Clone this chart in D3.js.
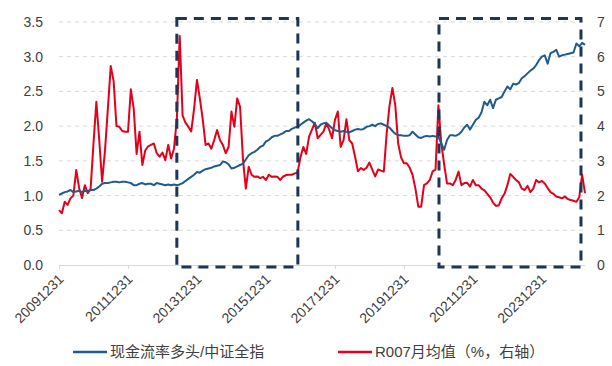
<!DOCTYPE html>
<html><head><meta charset="utf-8">
<script src="https://cdn.jsdelivr.net/npm/d3@7"></script>
<style>
body{margin:0;background:#fff;}
svg{display:block;font-family:"Liberation Sans",Arial,sans-serif;}
</style></head>
<body><svg id="c" width="612" height="366"></svg>
<script>
// ---- data (monthly, 2009-12 .. 2025-03) ----
const xTickLabels = ["20091231","20111231","20131231","20151231","20171231","20191231","20211231","20231231"];
const leftTicks = [0,0.5,1,1.5,2,2.5,3,3.5];
const rightTicks = [0,1,2,3,4,5,6,7];
const seriesNames = ["现金流率多头/中证全指","R007月均值（%，右轴）"];
const cashflowRatio = [
1.01,1.03,1.05,1.06,1.08,1.05,1.06,1.07,1.05,1.07,1.06,1.08,1.08,1.10,1.13,1.17,1.18,1.18,1.19,1.20,
1.20,1.19,1.20,1.20,1.19,1.18,1.15,1.15,1.17,1.18,1.16,1.17,1.17,1.15,1.18,1.17,1.16,1.15,1.16,1.15,
1.16,1.15,1.16,1.18,1.21,1.24,1.27,1.30,1.34,1.33,1.36,1.38,1.39,1.40,1.42,1.43,1.44,1.49,1.48,1.45,
1.39,1.40,1.42,1.44,1.46,1.52,1.58,1.61,1.63,1.66,1.70,1.72,1.78,1.80,1.84,1.86,1.86,1.88,1.90,1.93,
1.93,1.96,1.98,1.99,2.02,2.05,2.08,2.10,2.07,2.03,1.97,2.02,2.04,2.05,2.01,1.97,1.94,1.93,1.92,1.93,
1.92,1.91,1.93,1.95,1.96,1.95,1.96,1.99,2.00,2.02,2.00,2.03,2.04,2.02,2.00,1.98,1.93,1.89,1.87,1.87,
1.86,1.86,1.87,1.92,1.88,1.84,1.83,1.85,1.86,1.85,1.86,1.85,1.85,1.75,1.66,1.80,1.87,1.87,1.86,1.88,
1.92,1.98,2.02,1.95,2.02,2.09,2.12,2.20,2.35,2.30,2.38,2.26,2.38,2.40,2.42,2.50,2.57,2.53,2.61,2.60,
2.62,2.69,2.72,2.76,2.80,2.83,2.88,2.95,3.00,3.02,2.90,3.05,3.07,3.10,3.00,3.02,3.03,3.04,3.05,3.06,
3.19,3.15,3.20,3.17];
const r007 = [
1.58,1.49,1.82,1.73,1.92,2.00,2.74,2.22,1.93,2.30,2.07,2.20,3.50,4.70,3.60,2.40,3.30,4.50,5.73,5.30,
4.00,3.98,3.86,3.84,3.84,5.06,4.50,3.20,3.84,2.88,3.30,3.42,3.46,3.50,3.22,3.12,3.24,3.02,3.46,3.07,
3.35,4.20,6.60,4.30,4.10,3.98,3.85,4.50,5.33,4.80,4.20,3.46,3.50,3.35,3.60,3.89,3.60,3.46,3.22,3.40,
4.42,3.98,4.80,4.56,3.05,2.20,2.83,2.60,2.54,2.55,2.50,2.54,2.45,2.60,2.54,2.55,2.54,2.45,2.55,2.59,
2.60,2.60,2.64,2.66,3.10,3.40,3.20,3.70,3.90,4.10,3.65,3.75,3.84,4.08,3.90,3.65,4.18,4.42,3.40,3.60,
4.20,3.60,3.50,3.12,2.70,2.79,2.74,2.80,2.95,2.75,2.55,2.75,2.72,2.69,3.79,4.60,5.10,4.60,3.50,3.10,
2.93,2.93,2.80,2.60,2.20,1.68,1.68,2.30,2.35,2.45,2.70,2.75,4.60,3.50,2.90,2.35,2.35,2.30,2.45,2.69,
2.30,2.36,2.37,2.26,2.45,2.30,2.30,2.20,2.15,2.05,1.95,1.80,1.70,1.72,1.92,2.05,2.30,2.62,2.54,2.45,
2.38,2.20,2.16,2.28,2.10,2.20,2.45,2.38,2.42,2.35,2.22,2.10,2.05,1.97,1.95,1.92,1.97,1.90,1.87,1.85,
1.82,1.95,2.60,2.07];
// highlighted periods, in month-index units
const highlightStart = [41.0, 132.2];
const highlightEnd = [83.1, 181.6];

// ---- drawing ----
const svg = d3.select("#c");
const L = 59, R = 585, T = 22, B = 265;
const n = cashflowRatio.length;
const x = d3.scaleLinear().domain([0, n - 1]).range([L, R]);
const yL = d3.scaleLinear().domain([0, 3.5]).range([B, T]);
const yR = d3.scaleLinear().domain([0, 7]).range([B, T]);
const txt = "#404040";

// gridlines
svg.append("g").selectAll("line").data(leftTicks.filter(d => d > 0)).join("line")
  .attr("x1", L).attr("x2", R + 1).attr("y1", d => yL(d)).attr("y2", d => yL(d))
  .attr("stroke", "#d9d9d9").attr("stroke-width", 1).attr("stroke-dasharray", "4,4");

// bottom axis
const xAxis = d3.axisBottom(x).tickValues(xTickLabels.map((d, i) => i * 24))
  .tickFormat((d, i) => xTickLabels[i]).tickSizeOuter(0).tickSizeInner(4);
const gx = svg.append("g").attr("transform", `translate(0,${B})`).call(xAxis);
gx.select(".domain").attr("stroke", "#d9d9d9").attr("stroke-width", 1);
gx.selectAll(".tick line").attr("stroke", "#d9d9d9");
gx.selectAll(".tick text")
  .attr("fill", txt).attr("font-size", 14)
  .attr("text-anchor", "end").attr("dy", null).attr("y", 0)
  .attr("transform", "translate(5,15) rotate(-45)");

// left axis
const gl = svg.append("g").attr("transform", `translate(${L},0)`)
  .call(d3.axisLeft(yL).tickValues(leftTicks).tickFormat(d3.format(".1f")).tickSize(0).tickPadding(16));
gl.select(".domain").remove();
gl.selectAll("text").attr("fill", txt).attr("font-size", 14);

// right axis
const gr = svg.append("g").attr("transform", `translate(${R},0)`)
  .call(d3.axisRight(yR).tickValues(rightTicks).tickFormat(d3.format("d")).tickSize(0).tickPadding(12));
gr.select(".domain").remove();
gr.selectAll("text").attr("fill", txt).attr("font-size", 14);

// lines
const blue = "#1f5b8c", red = "#e2001a";
svg.append("path").datum(r007)
  .attr("d", d3.line().x((d, i) => x(i)).y(d => yR(d)))
  .attr("fill", "none").attr("stroke", red).attr("stroke-width", 2).attr("stroke-linejoin", "round");
svg.append("path").datum(cashflowRatio)
  .attr("d", d3.line().x((d, i) => x(i)).y(d => yL(d)))
  .attr("fill", "none").attr("stroke", blue).attr("stroke-width", 2).attr("stroke-linejoin", "round");

// highlight boxes
svg.append("g").selectAll("rect").data(highlightStart).join("rect")
  .attr("x", d => x(d)).attr("width", (d, i) => x(highlightEnd[i]) - x(d))
  .attr("y", yL(3.55)).attr("height", yL(-0.03) - yL(3.55))
  .attr("fill", "none").attr("stroke", "#1f3556").attr("stroke-width", 3)
  .attr("stroke-dasharray", "10,7");

// legend
const lg = svg.append("g").attr("transform", "translate(0,352)");
const legItems = [{x: 73, c: blue, t: seriesNames[0]}, {x: 338, c: red, t: seriesNames[1]}];
legItems.forEach(it => {
  lg.append("line").attr("x1", it.x).attr("x2", it.x + 34).attr("y1", 0).attr("y2", 0)
    .attr("stroke", it.c).attr("stroke-width", 2.5);
  lg.append("text").attr("x", it.x + 37).attr("y", 0).attr("dy", "0.35em")
    .attr("fill", txt).attr("font-size", 15)
    .attr("font-family", "'Liberation Sans','Noto Sans CJK SC',sans-serif").text(it.t);
});
</script></body></html>
